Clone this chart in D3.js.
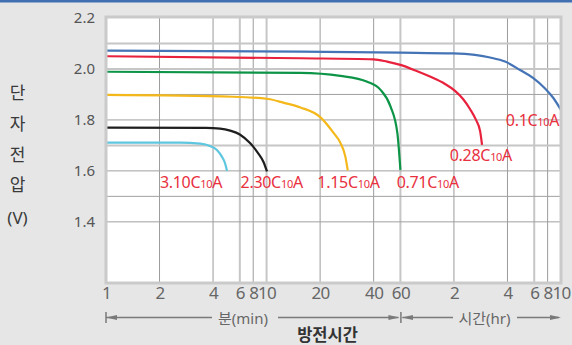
<!DOCTYPE html>
<html><head><meta charset="utf-8">
<script src="https://cdn.jsdelivr.net/npm/d3@7"></script>
<style>
html,body{margin:0;padding:0;background:#e6e6e7;}
svg{display:block;font-family:"Noto Sans","Noto Sans CJK KR",sans-serif;}
</style></head>
<body>
<svg id="chart" width="572" height="345"></svg>
<script>
// ---- data ----
const tickMinutes = [1, 2, 4, 6, 8, 10, 20, 40, 60, 120, 240, 360, 480, 600];
const tickLabels  = ["1","2","4","6","8","10","20","40","60","2","4","6","8","10"];
// the original axis is drawn on a non-uniform log-like grid: slot of each tick
const tickSlots   = [0, 4, 8, 10, 11, 12, 16, 20, 22, 26, 30, 32, 33, 34];
const yTickValues = [1.4, 1.6, 1.8, 2.0, 2.2];
const yGridValues = [1.4, 1.5, 1.6, 1.7, 1.8, 1.9, 2.0, 2.1];
const yTitle = ["단", "자", "전", "압", "(V)"];

const seriesRates  = ["0.1", "0.28", "0.71", "1.15", "2.30", "3.10"];
const seriesColors = ["#4574b6", "#e8213d", "#0d9447", "#f4b81a", "#1e1e1e", "#5ec6de"];
// [minutes, volts]
const curve01  = [[1,2.072],[15.5,2.068],[60,2.064],[118.6,2.061],[157.5,2.055],[191.6,2.045],[232.6,2.029],[290.4,1.996],[353.5,1.965],[454.5,1.923],[524.8,1.888],[600,1.839]];
const curve028 = [[1,2.050],[15.5,2.042],[40,2.038],[49,2.029],[60,2.016],[72.9,1.994],[88,1.970],[106.9,1.941],[121.7,1.914],[135,1.882],[147.7,1.843],[159.7,1.800],[168.3,1.757],[172.7,1.702]];
const curve071 = [[1,1.989],[15.5,1.985],[26,1.973],[36.8,1.950],[44.4,1.918],[51.7,1.852],[57.3,1.748],[60,1.604]];
const curve115 = [[1,1.898],[5.43,1.891],[10.2,1.882],[12.4,1.868],[15.5,1.849],[20.1,1.810],[23.8,1.749],[26,1.710],[27.75,1.655],[28.6,1.602]];
const curve230 = [[1,1.770],[3.65,1.769],[4.45,1.766],[5.18,1.758],[6,1.743],[7.47,1.709],[8.67,1.670],[9.5,1.635],[10.05,1.598]];
const curve310 = [[1,1.711],[2.61,1.711],[3.39,1.707],[3.84,1.698],[4.24,1.682],[4.58,1.655],[4.79,1.631],[4.94,1.600]];
const curves = [curve01, curve028, curve071, curve115, curve230, curve310];
// label anchor (start of text): [minutes, volts]
const labelAt = [[235,1.775],[113.7,1.637],[56.7,1.531],[19.3,1.531],[6.1,1.531],[2.01,1.531]];

// ---- layout ----
const L = 106, R = 561, T = 17, B = 283;
const svg = d3.select("#chart");

const xs = d3.scaleLinear()
  .domain(tickMinutes.map(Math.log10))
  .range(tickSlots.map(s => L + s * (R - L) / 34));
const X = t => xs(Math.log10(t));
const y = d3.scaleLinear().domain([1.16, 2.2]).range([B, 18]);

// header stripe
svg.append("rect").attr("x",0).attr("y",0).attr("width",572).attr("height",2.5).attr("fill","#4070b2");

// plot background
svg.append("rect").attr("x",L).attr("y",T).attr("width",R-L).attr("height",B-T).attr("fill","#fff");

// grid
const lightX = new Set([6, 10, 60, 360]);
const gx = svg.append("g");
tickMinutes.filter(t => t > 1 && t < 600).forEach(t => {
  const light = lightX.has(t);
  gx.append("line").attr("x1",X(t)).attr("x2",X(t)).attr("y1",T).attr("y2",B)
    .attr("stroke", light ? "#c6c6c6" : "#9c9c9c").attr("stroke-width", light ? 2 : 1);
});
const lightY = new Set([2.1, 2.0, 1.7]);
yGridValues.forEach(v => {
  const light = lightY.has(v);
  gx.append("line").attr("x1",L).attr("x2",R).attr("y1",y(v)).attr("y2",y(v))
    .attr("stroke", light ? "#c6c6c6" : "#a0a0a0").attr("stroke-width", light ? 2 : 1);
});

// curves
const line = d3.line().x(d => X(d[0])).y(d => y(d[1])).curve(d3.curveMonotoneX);
curves.forEach((c, i) => {
  svg.append("path").datum(c).attr("d", line).attr("fill","none")
    .attr("stroke", seriesColors[i]).attr("stroke-width", 2.2).attr("stroke-linecap","butt");
});

// border
svg.append("rect").attr("x",L).attr("y",T).attr("width",R-L).attr("height",B-T)
  .attr("fill","none").attr("stroke","#cacaca").attr("stroke-width",3);

// curve labels
seriesRates.forEach((r, i) => {
  const t = svg.append("text").attr("x", X(labelAt[i][0])).attr("y", y(labelAt[i][1]))
    .attr("fill","#e8303e").attr("font-size",16).attr("letter-spacing","-0.3");
  t.append("tspan").text(r + "C");
  t.append("tspan").attr("font-size",11).text("10");
  t.append("tspan").text("A");
});

// y axis labels
const yAxis = d3.axisLeft(y).tickValues(yTickValues).tickFormat(d3.format(".1f")).tickSize(0).tickPadding(0);
const ya = svg.append("g").attr("transform","translate(95,0)").call(yAxis);
ya.select(".domain").remove();
ya.selectAll("text").attr("font-size",15).attr("fill","#555").attr("font-family","Noto Sans");

// y title
yTitle.forEach((s, i) => {
  svg.append("text").attr("x",17.5).attr("y",[92,123,154,184,217][i])
    .attr("text-anchor","middle").attr("dominant-baseline","central")
    .attr("font-size",17).attr("fill","#3a3a3a").text(s);
});

// x axis labels
const xAxis = d3.axisBottom(xs).tickValues(tickMinutes.map(Math.log10))
  .tickFormat((d, i) => tickLabels[i]).tickSize(0).tickPadding(0);
const xa = svg.append("g").attr("transform","translate(0,287)").call(xAxis);
xa.select(".domain").remove();
xa.selectAll("text").attr("font-size",17).attr("fill","#666").attr("font-family","Noto Sans")
  .attr("dy","0.71em").attr("letter-spacing","-0.6");

// range arrows
const ay = 317.5, ac = "#7a7a7a";
const g = svg.append("g");
function hline(x1, x2) { g.append("line").attr("x1",x1).attr("x2",x2).attr("y1",ay).attr("y2",ay).attr("stroke",ac).attr("stroke-width",1.3); }
function bar(x) { g.append("line").attr("x1",x).attr("x2",x).attr("y1",ay-5.5).attr("y2",ay+5.5).attr("stroke",ac).attr("stroke-width",1.5); }
function head(x, dir) { g.append("path").attr("d", `M${x},${ay}L${x+dir*11},${ay-2.6}L${x+dir*11},${ay+2.6}Z`).attr("fill",ac); }
const x1 = X(1), x60 = X(60), x600 = X(600);
bar(x1); head(x1, 1); hline(x1, 212);
hline(278, x60 - 2); head(x60 - 1, -1); bar(x60 + 0.5);
head(x60 + 1.5, 1); hline(x60 + 2, 453);
hline(517, x600 - 2); head(x600, -1);
g.append("text").attr("x",243).attr("y",ay).attr("dominant-baseline","central").attr("text-anchor","middle")
  .attr("font-size",15).attr("fill","#666").text("분(min)");
g.append("text").attr("x",484.5).attr("y",ay).attr("dominant-baseline","central").attr("text-anchor","middle")
  .attr("font-size",15).attr("fill","#666").text("시간(hr)");
svg.append("text").attr("x",327.5).attr("y",334.5).attr("dominant-baseline","central").attr("text-anchor","middle")
  .attr("font-size",16.5).attr("font-weight",600).attr("fill","#333").text("방전시간");
</script>
</body></html>
